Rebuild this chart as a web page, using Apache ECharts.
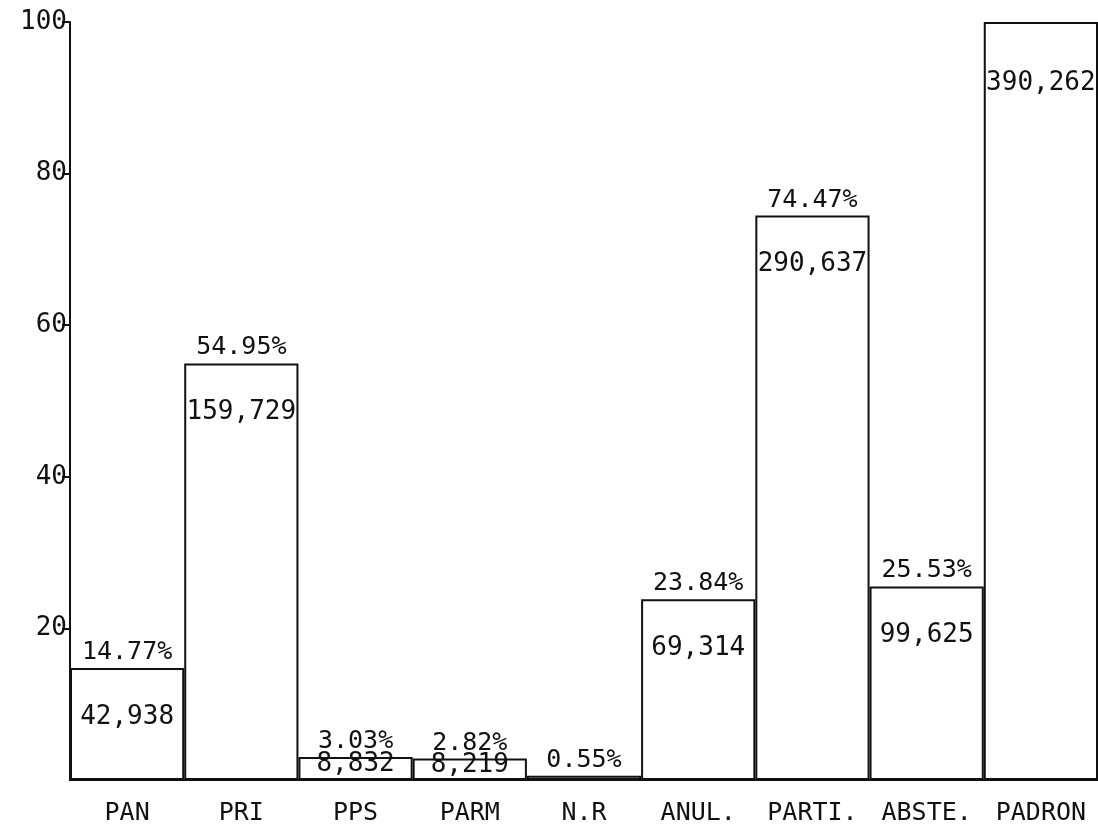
<!DOCTYPE html>
<html>
<head>
<meta charset="utf-8">
<style>
  html, body { margin: 0; padding: 0; background: #fff; }
  #main { width: 1098px; height: 834px; }
</style>
<script src="https://cdn.jsdelivr.net/npm/echarts@6/dist/echarts.min.js"></script>
</head>
<body>
<div id="main"></div>
<script>
var categories = ["PAN", "PRI", "PPS", "PARM", "N.R", "ANUL.", "PARTI.", "ABSTE.", "PADRON"];
var percents = [14.77, 54.95, 3.03, 2.82, 0.55, 23.84, 74.47, 25.53, 100];
var votes = [42938, 159729, 8832, 8219, null, 69314, 290637, 99625, 390262];
var yTicks = [0, 20, 40, 60, 80, 100];

var FONT = "DejaVu Sans Mono";
var INK = "#111";

function fmtVotes(n) {
  return String(n).replace(/\B(?=(\d{3})+(?!\d))/g, ",");
}

var chartDom = document.getElementById("main");
var myChart = echarts.init(chartDom);

// small bars get their count squeezed right under the top edge
var voteData = percents.map(function (p, i) {
  var item = { value: p };
  if (p < 5) item.label = { distance: 0, offset: [0, -6] };
  if (i === categories.length - 1) item.label = { offset: [0, 12] };
  return item;
});

var option = {
  backgroundColor: "#fff",
  animation: false,
  grid: { left: 70, right: 0, top: 22, bottom: 54, containLabel: false },
  xAxis: {
    type: "category",
    data: categories,
    axisLine: { lineStyle: { color: INK, width: 2 } },
    axisTick: { show: false },
    axisLabel: { color: INK, fontFamily: FONT, fontSize: 25, margin: 21, interval: 0 },
  },
  yAxis: {
    type: "value",
    min: yTicks[0],
    max: yTicks[yTicks.length - 1],
    interval: 20,
    splitLine: { show: false },
    axisLine: { show: true, lineStyle: { color: INK, width: 2 } },
    axisTick: { show: true, length: 8, lineStyle: { color: INK, width: 2 } },
    axisLabel: {
      color: INK,
      fontFamily: FONT,
      fontSize: 26,
      margin: 3,
      showMinLabel: false,
    },
  },
  series: [
    {
      name: "pct",
      type: "bar",
      data: percents,
      barWidth: "100%",
      barCategoryGap: 0,
      itemStyle: { color: "#fff", borderColor: INK, borderWidth: 2 },
      label: {
        show: true,
        position: "top",
        distance: 3,
        color: INK,
        fontFamily: FONT,
        fontSize: 25,
        formatter: function (p) {
          return p.dataIndex === categories.length - 1 ? "" : p.value.toFixed(2) + "%";
        },
      },
    },
    {
      name: "votes",
      type: "bar",
      data: voteData,
      barWidth: "100%",
      barGap: "-100%",
      itemStyle: { color: "rgba(0,0,0,0)", borderWidth: 0 },
      label: {
        show: true,
        position: "insideTop",
        distance: 36,
        color: INK,
        fontFamily: FONT,
        fontSize: 26,
        formatter: function (p) {
          var v = votes[p.dataIndex];
          return v == null ? "" : fmtVotes(v);
        },
      },
    },
  ],
};

option && myChart.setOption(option);
</script>
</body>
</html>
